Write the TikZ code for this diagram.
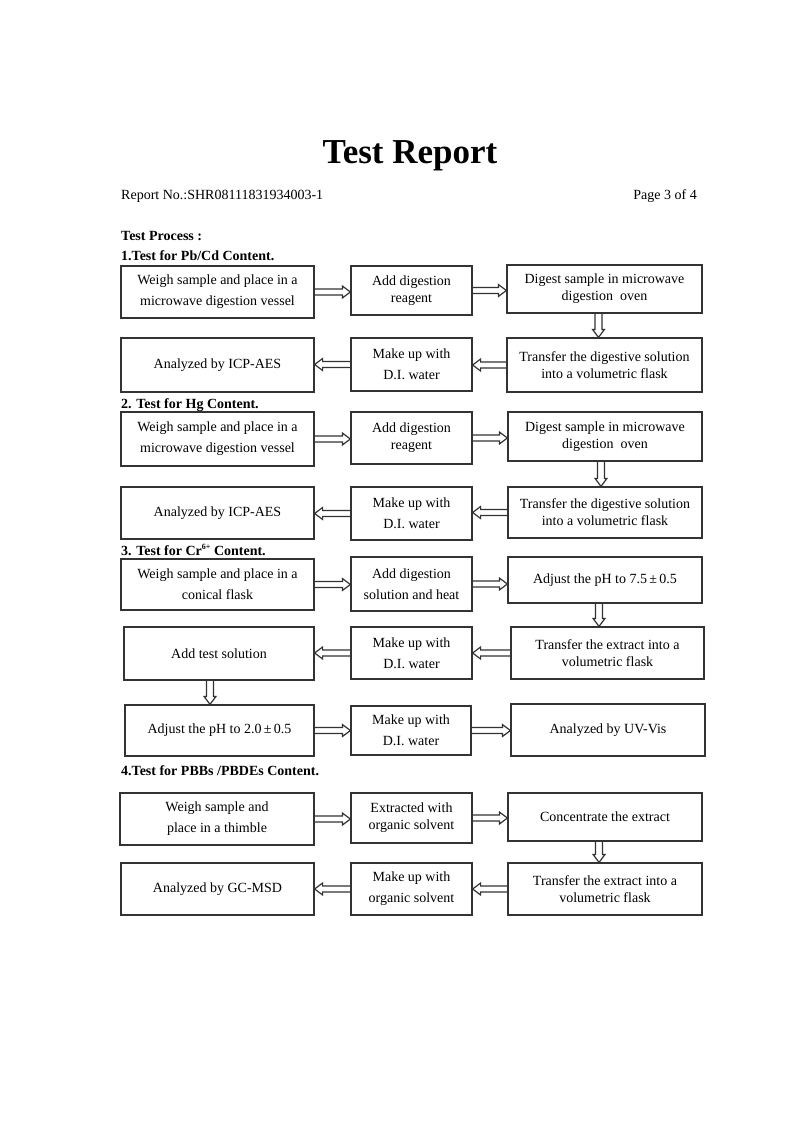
\documentclass[tikz,border=0pt]{standalone}
\usepackage{fontspec}
\setmainfont{Liberation Serif}
\usetikzlibrary{calc}
\tikzset{
  box/.style={draw=black!80, line width=1.2pt, align=center, inner sep=0pt,
    font=\fontsize{14}{17}\selectfont},
  loose/.style={font=\fontsize{14}{21}\selectfont},
  head/.style={anchor=base west, inner sep=0pt, font=\fontsize{14}{17}\selectfont\bfseries},
  plain/.style={inner sep=0pt, font=\fontsize{14}{17}\selectfont},
  harr/.style={draw=black!80, line width=1.2pt, line join=miter},
  hr/.style={harr, to path={let \p1=(\tikztostart), \p2=(\tikztotarget) in
    (\x1,{\y1+3pt}) -- ({\x2-8pt},{\y2+3pt}) -- ({\x2-8pt},{\y2+6pt}) -- (\x2,\y2)
    -- ({\x2-8pt},{\y2-6pt}) -- ({\x2-8pt},{\y2-3pt}) -- (\x1,{\y1-3pt})}},
  hl/.style={harr, to path={let \p1=(\tikztostart), \p2=(\tikztotarget) in
    (\x1,{\y1+3pt}) -- ({\x2+8pt},{\y2+3pt}) -- ({\x2+8pt},{\y2+6pt}) -- (\x2,\y2)
    -- ({\x2+8pt},{\y2-6pt}) -- ({\x2+8pt},{\y2-3pt}) -- (\x1,{\y1-3pt})}},
  hd/.style={harr, to path={let \p1=(\tikztostart), \p2=(\tikztotarget) in
    ({\x1-3.5pt},\y1) -- ({\x2-3.5pt},{\y2+8pt}) -- ({\x2-6pt},{\y2+8pt}) -- (\x2,\y2)
    -- ({\x2+6pt},{\y2+8pt}) -- ({\x2+3.5pt},{\y2+8pt}) -- ({\x1+3.5pt},\y1)}},
}
\newcommand\flowbox[7]{\node[box,#6,minimum width={(#3-#2)*1pt},minimum height={(#5-#4)*1pt}] (#1) at ({(#2+#3)/2},{(#4+#5)/2}) {#7};}
\begin{document}
\begin{tikzpicture}[x=1pt,y=-1pt]
\fill[white] (0,0) rectangle (800,1132);
\useasboundingbox (0,0) rectangle (800,1132);

% header
\node[anchor=base, inner sep=0pt, font=\fontsize{35}{40}\selectfont\bfseries] (title) at (410,163) {Test Report};
\node[plain, anchor=base west] (repno) at (121,199) {Report No.:SHR08111831934003-1};
\node[plain, anchor=base east] (page) at (697,199) {Page 3 of 4};
\node[head] (tp) at (121,240) {Test Process :};

% section 1
\node[head] (s1) at (121,260) {1.Test for Pb/Cd Content.};
\flowbox{a1}{121}{314}{266}{318}{loose}{Weigh sample and place in a\\microwave digestion vessel}
\flowbox{b1}{351}{472}{266}{315}{}{Add digestion\\reagent}
\flowbox{c1}{507}{702}{265}{313}{}{Digest sample in microwave\\digestion\ \ oven}
\flowbox{d1}{121}{314}{338}{392}{}{Analyzed by ICP-AES}
\flowbox{e1}{351}{472}{338}{391}{loose}{Make up with\\D.I. water}
\flowbox{f1}{507}{702}{338}{392}{}{Transfer the digestive solution\\into a volumetric flask}
\coordinate (c1a) at ([xshift=-6pt]c1.south);
\draw[hr] (a1.east) to (a1.east -| b1.west);
\draw[hr] (b1.east) to (b1.east -| c1.west);
\draw[hd] (c1a) to (c1a |- f1.north);
\draw[hl] (f1.west) to (f1.west -| e1.east);
\draw[hl] (e1.west) to (e1.west -| d1.east);

% section 2
\node[head] (s2) at (121,408) {2. Test for Hg Content.};
\flowbox{a2}{121}{314}{412}{466}{loose}{Weigh sample and place in a\\microwave digestion vessel}
\flowbox{b2}{351}{472}{412}{464}{}{Add digestion\\reagent}
\flowbox{c2}{508}{702}{412}{461}{}{Digest sample in microwave\\digestion\ \ oven}
\flowbox{d2}{121}{314}{487}{539}{}{Analyzed by ICP-AES}
\flowbox{e2}{351}{472}{487}{540}{loose}{Make up with\\D.I. water}
\flowbox{f2}{508}{702}{487}{538}{}{Transfer the digestive solution\\into a volumetric flask}
\coordinate (c2a) at ([xshift=-4pt]c2.south);
\draw[hr] (a2.east) to (a2.east -| b2.west);
\draw[hr] (b2.east) to (b2.east -| c2.west);
\draw[hd] (c2a) to (c2a |- f2.north);
\draw[hl] (f2.west) to (f2.west -| e2.east);
\draw[hl] (e2.west) to (e2.west -| d2.east);

% section 3
\node[head] (s3) at (121,555) {3. Test for Cr\raisebox{5.5pt}{\fontsize{8}{8}\selectfont 6+} Content.};
\flowbox{a3}{121}{314}{559}{610}{loose}{Weigh sample and place in a\\conical flask}
\flowbox{b3}{351}{472}{557}{611}{loose}{Add digestion\\solution and heat}
\flowbox{c3}{508}{702}{557}{603}{}{Adjust the pH to 7.5{\,}±{\,}0.5}
\flowbox{d3}{124}{314}{627}{680}{}{Add test solution}
\flowbox{e3}{351}{472}{627}{679}{loose}{Make up with\\D.I. water}
\flowbox{f3}{511}{704}{627}{679}{}{Transfer the extract into a\\volumetric flask}
\flowbox{g3}{125}{314}{705}{756}{}{Adjust the pH to 2.0{\,}±{\,}0.5}
\flowbox{h3}{351}{471}{706}{755}{loose}{Make up with\\D.I. water}
\flowbox{i3}{511}{705}{704}{756}{}{Analyzed by UV-Vis}
\coordinate (c3a) at ([xshift=-6pt]c3.south);
\coordinate (d3a) at ([xshift=-9pt]d3.south);
\draw[hr] (a3.east) to (a3.east -| b3.west);
\draw[hr] (b3.east) to (b3.east -| c3.west);
\draw[hd] (c3a) to (c3a |- f3.north);
\draw[hl] (f3.west) to (f3.west -| e3.east);
\draw[hl] (e3.west) to (e3.west -| d3.east);
\draw[hd] (d3a) to (d3a |- g3.north);
\draw[hr] (g3.east) to (g3.east -| h3.west);
\draw[hr] (h3.east) to (h3.east -| i3.west);

% section 4
\node[head] (s4) at (121,775) {4.Test for PBBs /PBDEs Content.};
\flowbox{a4}{120}{314}{793}{845}{loose}{Weigh sample and\\place in a thimble}
\flowbox{b4}{351}{472}{793}{843}{}{Extracted with\\organic solvent}
\flowbox{c4}{508}{702}{793}{841}{}{Concentrate the extract}
\flowbox{d4}{121}{314}{863}{915}{}{Analyzed by GC-MSD}
\flowbox{e4}{351}{472}{863}{915}{loose}{Make up with\\organic solvent}
\flowbox{f4}{508}{702}{863}{915}{}{Transfer the extract into a\\volumetric flask}
\coordinate (c4a) at ([xshift=-6pt]c4.south);
\draw[hr] (a4.east) to (a4.east -| b4.west);
\draw[hr] (b4.east) to (b4.east -| c4.west);
\draw[hd] (c4a) to (c4a |- f4.north);
\draw[hl] (f4.west) to (f4.west -| e4.east);
\draw[hl] (e4.west) to (e4.west -| d4.east);
\end{tikzpicture}
\end{document}
